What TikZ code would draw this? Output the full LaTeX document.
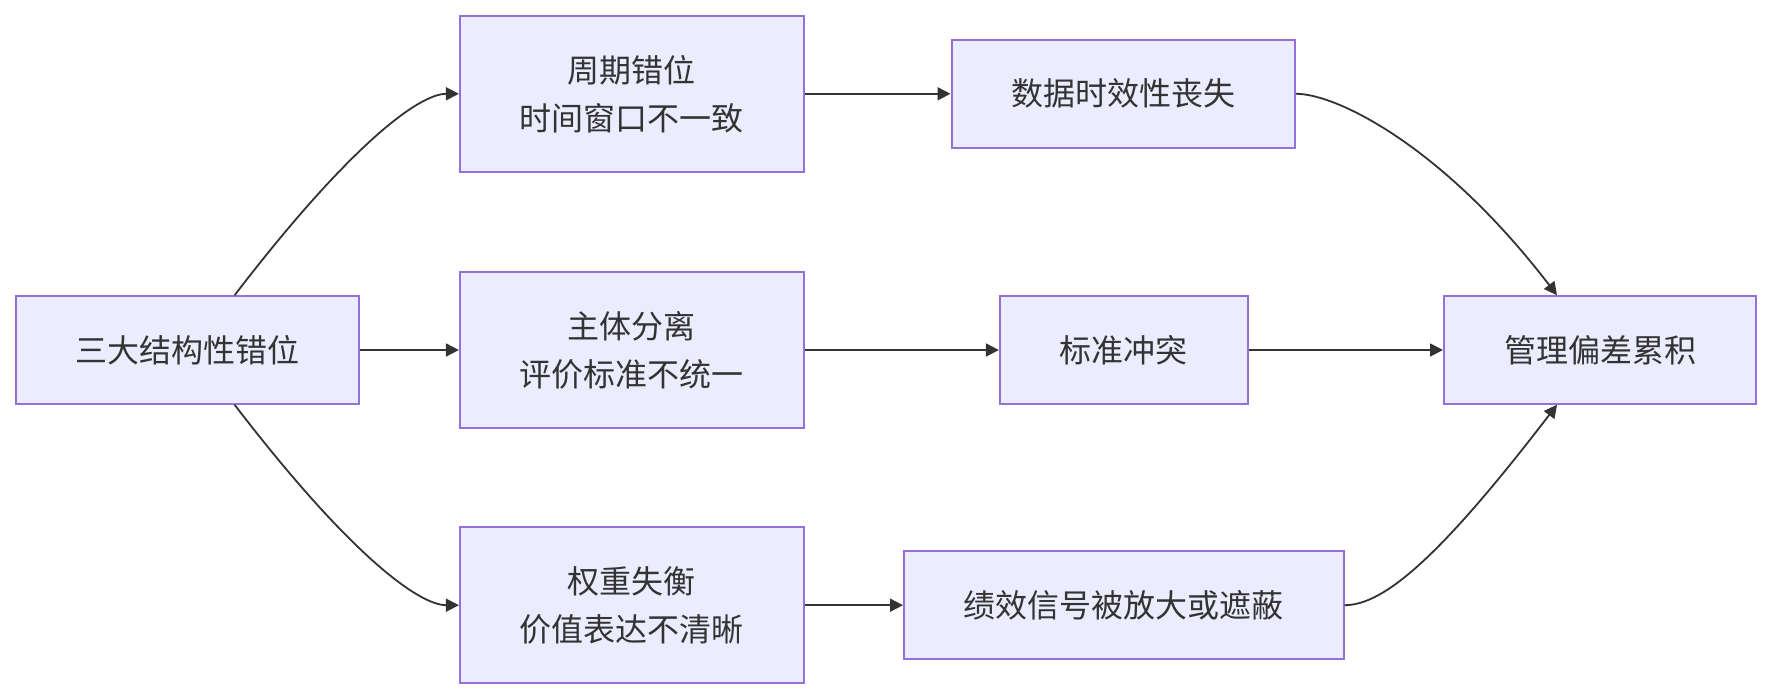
\documentclass[tikz,border=0pt]{standalone}
\usepackage{fontspec}
\setmainfont{Noto Sans CJK SC}
\usepackage{tikz}
\usetikzlibrary{arrows.meta}
\definecolor{boxFill}{HTML}{ECECFF}
\definecolor{boxLine}{HTML}{9370DB}
\definecolor{ink}{HTML}{333333}
\tikzset{
  box/.style={rectangle, draw=boxLine, fill=boxFill, line width=1pt, text=ink, align=center,
    font=\fontsize{16}{24}\selectfont, minimum height=53.75pt, inner sep=0pt},
  tall/.style={box, minimum height=78pt},
  flow/.style={draw=ink, line width=0.9pt, -{Triangle[length=6.5pt, width=6.5pt]}},
}

\begin{document}
\begin{tikzpicture}[x=0.5pt, y=-0.5pt]
\useasboundingbox (0,0) rectangle (1772,700);
\node[box, minimum width=171.8pt] (root) at (187.6,350) {三大结构性错位};
\node[tall, minimum width=171.8pt] (cyc) at (631.7,93.8) {周期错位\\时间窗口不一致};
\node[tall, minimum width=171.8pt] (subj) at (631.7,350) {主体分离\\评价标准不统一};
\node[tall, minimum width=171.8pt] (wgt) at (631.7,605.2) {权重失衡\\价值表达不清晰};
\node[box, minimum width=171.8pt] (data) at (1123.3,93.8) {数据时效性丧失};
\node[box, minimum width=123.8pt] (conf) at (1123.7,350) {标准冲突};
\node[box, minimum width=219.8pt] (sig) at (1123.8,605.2) {绩效信号被放大或遮蔽};
\node[box, minimum width=156pt] (bias) at (1600,350) {管理偏差累积};
% from the root
\draw[flow] ([xshift=23.5pt]root.north) .. controls +(115,-150) and +(-40,0) .. (cyc.west);
\draw[flow] (root.east) -- (subj.west);
\draw[flow] ([xshift=23.5pt]root.south) .. controls +(115,150) and +(-40,0) .. (wgt.west);
% middle column
\draw[flow] (cyc.east) -- (data.west);
\draw[flow] (subj.east) -- (conf.west);
\draw[flow] (wgt.east) -- (sig.west);
% into the result
\draw[flow] (data.east) .. controls +(40,0) and +(-115,-150) .. ([xshift=-21.5pt]bias.north);
\draw[flow] (conf.east) -- (bias.west);
\draw[flow] (sig.east) .. controls +(40,0) and +(-115,150) .. ([xshift=-21.5pt]bias.south);
\end{tikzpicture}
\end{document}
